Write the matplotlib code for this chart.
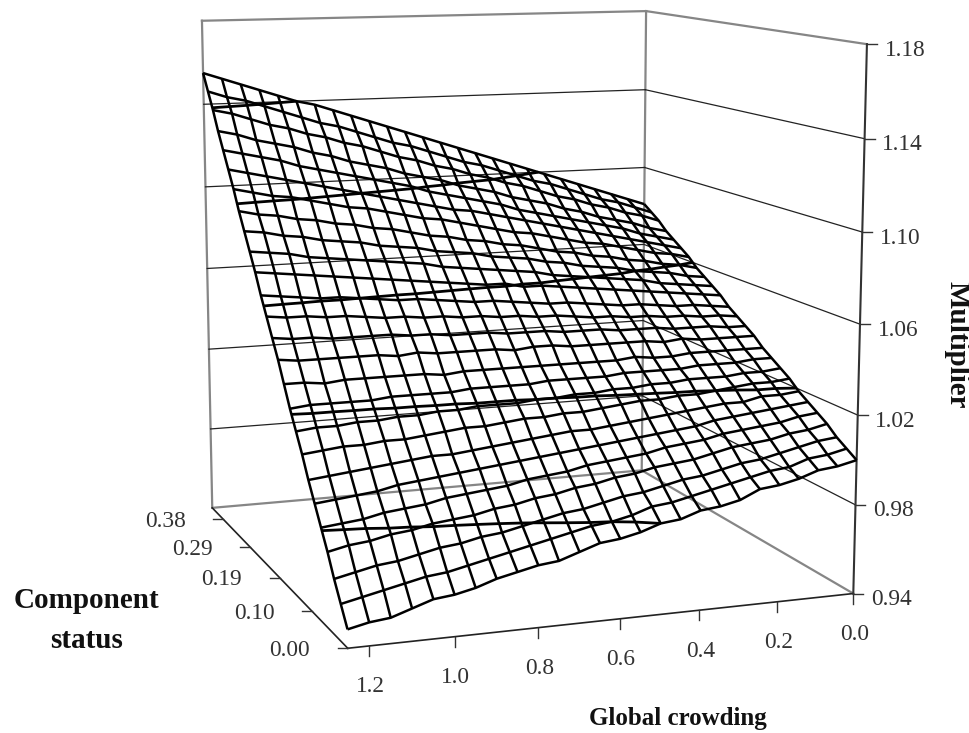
import numpy as np
import matplotlib
matplotlib.use('Agg')
import matplotlib.pyplot as plt

# axis values
crowding = [0.00, 0.05, 0.10, 0.15, 0.20, 0.25, 0.30, 0.35, 0.40, 0.45, 0.50, 0.55, 0.60,
            0.65, 0.70, 0.75, 0.80, 0.85, 0.90, 0.95, 1.00, 1.05, 1.10, 1.15, 1.20, 1.25]
status = [0.0000, 0.0168, 0.0336, 0.0504, 0.0672, 0.0840, 0.1008, 0.1176, 0.1344, 0.1512,
          0.1680, 0.1848, 0.2016, 0.2184, 0.2352, 0.2520, 0.2688, 0.2856, 0.3024, 0.3192,
          0.3360, 0.3528, 0.3696, 0.3864, 0.4032, 0.4200]

# multiplier, one row per status value, crowding left to right
multiplier = np.array([
    [1.000, .998, .997, .994, .992, .991, .987, .985, .984, .981, .980, .977, .975, .974, .971, .968, .967, .965, .963, .960, .958, .957, .954, .951, .950, .948],
    [1.003, 1.001, 1.000, .997, .996, .994, .992, .990, .988, .986, .985, .982, .980, .979, .977, .975, .973, .971, .969, .967, .965, .964, .962, .960, .958, .956],
    [1.006, 1.005, 1.003, 1.001, .999, .998, .996, .994, .993, .991, .989, .988, .986, .984, .983, .981, .979, .977, .976, .974, .973, .971, .969, .968, .966, .964],
    [1.010, 1.008, 1.007, 1.005, 1.004, 1.003, 1.001, .999, .998, .997, .995, .994, .992, .991, .989, .988, .986, .985, .983, .982, .981, .979, .978, .976, .975, .973],
    [1.013, 1.012, 1.010, 1.009, 1.008, 1.007, 1.005, 1.004, 1.003, 1.001, 1.000, .999, .998, .996, .995, .994, .992, .991, .990, .989, .987, .986, .985, .983, .982, .981],
    [1.016, 1.015, 1.014, 1.013, 1.012, 1.011, 1.009, 1.008, 1.007, 1.006, 1.005, 1.004, 1.003, 1.002, 1.001, 1.000, .999, .998, .997, .996, .995, .994, .992, .991, .990, .989],
    [1.019, 1.018, 1.018, 1.016, 1.016, 1.015, 1.014, 1.013, 1.012, 1.011, 1.010, 1.009, 1.009, 1.008, 1.007, 1.006, 1.005, 1.004, 1.003, 1.003, 1.002, 1.001, 1.000, .999, .998, .997],
    [1.023, 1.022, 1.022, 1.021, 1.020, 1.019, 1.019, 1.018, 1.018, 1.017, 1.016, 1.015, 1.015, 1.014, 1.014, 1.013, 1.012, 1.012, 1.011, 1.010, 1.009, 1.009, 1.008, 1.008, 1.007, 1.006],
    [1.026, 1.025, 1.025, 1.024, 1.024, 1.024, 1.023, 1.023, 1.022, 1.022, 1.021, 1.021, 1.020, 1.020, 1.019, 1.019, 1.019, 1.018, 1.018, 1.017, 1.017, 1.016, 1.016, 1.015, 1.015, 1.014],
    [1.029, 1.029, 1.028, 1.028, 1.028, 1.027, 1.027, 1.027, 1.027, 1.026, 1.026, 1.026, 1.026, 1.025, 1.025, 1.025, 1.025, 1.024, 1.024, 1.024, 1.024, 1.023, 1.023, 1.023, 1.023, 1.022],
    [1.032, 1.032, 1.032, 1.032, 1.032, 1.031, 1.031, 1.032, 1.031, 1.031, 1.031, 1.031, 1.031, 1.031, 1.031, 1.031, 1.031, 1.030, 1.031, 1.031, 1.031, 1.031, 1.031, 1.030, 1.031, 1.031],
    [1.036, 1.036, 1.036, 1.036, 1.037, 1.036, 1.037, 1.037, 1.037, 1.037, 1.037, 1.038, 1.038, 1.037, 1.038, 1.038, 1.038, 1.038, 1.039, 1.038, 1.039, 1.039, 1.039, 1.039, 1.039, 1.040],
    [1.039, 1.039, 1.040, 1.040, 1.040, 1.041, 1.041, 1.041, 1.042, 1.042, 1.042, 1.043, 1.043, 1.043, 1.044, 1.044, 1.044, 1.045, 1.045, 1.046, 1.046, 1.046, 1.046, 1.047, 1.047, 1.048],
    [1.042, 1.043, 1.043, 1.044, 1.044, 1.045, 1.045, 1.046, 1.046, 1.047, 1.048, 1.048, 1.049, 1.049, 1.050, 1.050, 1.051, 1.051, 1.052, 1.052, 1.053, 1.054, 1.054, 1.055, 1.055, 1.056],
    [1.045, 1.046, 1.047, 1.047, 1.048, 1.049, 1.049, 1.050, 1.051, 1.052, 1.052, 1.053, 1.054, 1.055, 1.055, 1.056, 1.057, 1.058, 1.058, 1.059, 1.060, 1.061, 1.061, 1.062, 1.063, 1.064],
    [1.049, 1.050, 1.051, 1.052, 1.053, 1.054, 1.055, 1.056, 1.057, 1.058, 1.059, 1.059, 1.061, 1.061, 1.062, 1.063, 1.064, 1.065, 1.066, 1.067, 1.068, 1.069, 1.070, 1.071, 1.072, 1.073],
    [1.052, 1.053, 1.054, 1.055, 1.057, 1.058, 1.059, 1.060, 1.061, 1.062, 1.064, 1.065, 1.066, 1.067, 1.068, 1.069, 1.071, 1.072, 1.073, 1.074, 1.075, 1.076, 1.077, 1.079, 1.080, 1.081],
    [1.055, 1.056, 1.058, 1.059, 1.060, 1.062, 1.063, 1.064, 1.066, 1.067, 1.069, 1.070, 1.071, 1.073, 1.074, 1.075, 1.077, 1.078, 1.079, 1.081, 1.082, 1.083, 1.085, 1.086, 1.088, 1.089],
    [1.058, 1.060, 1.061, 1.063, 1.064, 1.066, 1.067, 1.069, 1.070, 1.072, 1.074, 1.075, 1.077, 1.078, 1.080, 1.081, 1.083, 1.085, 1.086, 1.088, 1.089, 1.091, 1.092, 1.094, 1.095, 1.097],
    [1.062, 1.064, 1.065, 1.067, 1.069, 1.071, 1.072, 1.074, 1.076, 1.078, 1.079, 1.081, 1.083, 1.085, 1.087, 1.088, 1.090, 1.092, 1.094, 1.095, 1.097, 1.099, 1.101, 1.102, 1.104, 1.106],
    [1.065, 1.067, 1.069, 1.071, 1.073, 1.075, 1.077, 1.079, 1.081, 1.083, 1.085, 1.087, 1.089, 1.090, 1.092, 1.094, 1.096, 1.098, 1.100, 1.102, 1.104, 1.106, 1.108, 1.110, 1.112, 1.114],
    [1.068, 1.070, 1.072, 1.075, 1.077, 1.079, 1.081, 1.083, 1.085, 1.087, 1.090, 1.092, 1.094, 1.096, 1.098, 1.101, 1.103, 1.105, 1.107, 1.109, 1.111, 1.113, 1.116, 1.118, 1.120, 1.122],
    [1.071, 1.073, 1.076, 1.078, 1.080, 1.083, 1.085, 1.088, 1.090, 1.092, 1.095, 1.097, 1.099, 1.102, 1.104, 1.106, 1.109, 1.111, 1.113, 1.116, 1.118, 1.121, 1.123, 1.125, 1.128, 1.130],
    [1.075, 1.078, 1.080, 1.083, 1.085, 1.088, 1.090, 1.093, 1.096, 1.098, 1.101, 1.103, 1.106, 1.108, 1.111, 1.113, 1.116, 1.119, 1.121, 1.124, 1.126, 1.129, 1.131, 1.134, 1.137, 1.139],
    [1.078, 1.081, 1.084, 1.086, 1.089, 1.092, 1.095, 1.097, 1.100, 1.103, 1.106, 1.108, 1.111, 1.114, 1.117, 1.119, 1.122, 1.125, 1.128, 1.130, 1.133, 1.136, 1.139, 1.142, 1.144, 1.147],
    [1.081, 1.084, 1.087, 1.090, 1.093, 1.096, 1.099, 1.102, 1.105, 1.108, 1.111, 1.114, 1.117, 1.120, 1.123, 1.126, 1.129, 1.132, 1.135, 1.138, 1.140, 1.143, 1.146, 1.149, 1.152, 1.155],
])

crowding_ticks = [0.0, 0.2, 0.4, 0.6, 0.8, 1.0, 1.2]
status_ticks = [0.0000, 0.0950, 0.1900, 0.2850, 0.3800]
status_labels = ['0.00', '0.10', '0.19', '0.29', '0.38']
multiplier_ticks = [0.94, 0.98, 1.02, 1.06, 1.10, 1.14, 1.18]

W, H = 969, 733
GREY = '#868686'
TICK_TEXT = '#333333'
plt.rcParams['font.family'] = ['Liberation Serif', 'DejaVu Serif']

c_max, s_max = crowding[-1], status[-1]
z_min, z_max = multiplier_ticks[0], multiplier_ticks[-1]

# camera: box corners in the data -> where they sit on the canvas (pixels, y down)
corners = [((c_max, 0, z_min), (348, 649)),
           ((0, 0, z_min), (853, 593)),
           ((c_max, s_max, z_min), (212, 507)),
           ((0, s_max, z_min), (642, 471)),
           ((c_max, s_max, z_max), (202, 21)),
           ((0, s_max, z_max), (646, 11)),
           ((0, 0, z_max), (867, 44))]
rows, rhs = [], []
for (x, y, z), (u, v) in corners:
    rows.append([x, y, z, 1, 0, 0, 0, 0, -u*x, -u*y, -u*z])
    rows.append([0, 0, 0, 0, x, y, z, 1, -v*x, -v*y, -v*z])
    rhs += [u, v]
camera = np.append(np.linalg.lstsq(np.array(rows), np.array(rhs), rcond=None)[0], 1).reshape(3, 4)


def to_pixels(x, y, z):
    u, v, w = camera @ np.array([x, y, z, 1.0])
    return u/w, v/w


fig = plt.figure(figsize=(W/100, H/100), dpi=100)

# plain pixel axes underneath for the walls, ticks and labels
over = fig.add_axes([0, 0, 1, 1], zorder=0)
over.set_xlim(0, W)
over.set_ylim(H, 0)
over.axis('off')


def box_line(p0, p1, **kw):
    x0, y0 = to_pixels(*p0)
    x1, y1 = to_pixels(*p1)
    over.plot([x0, x1], [y0, y1], solid_capstyle='projecting', **kw)


# walls
edge = dict(color=GREY, lw=1.6)
box_line((c_max, s_max, z_min), (0, s_max, z_min), **edge)
box_line((0, s_max, z_min), (0, 0, z_min), **edge)
box_line((c_max, s_max, z_min), (c_max, s_max, z_max), **edge)
box_line((0, s_max, z_min), (0, s_max, z_max), **edge)
box_line((c_max, s_max, z_max), (0, s_max, z_max), **edge)
box_line((0, s_max, z_max), (0, 0, z_max), **edge)

for level in multiplier_ticks[1:-1]:
    box_line((c_max, s_max, level), (0, s_max, level), color='#222222', lw=0.9)
    box_line((0, s_max, level), (0, 0, level), color='#222222', lw=0.9)

# axes lines
box_line((c_max, 0, z_min), (0, 0, z_min), color='#222222', lw=1.2)
box_line((c_max, 0, z_min), (c_max, s_max, z_min), color='#222222', lw=1.2)
box_line((0, 0, z_min), (0, 0, z_max), color='#333333', lw=1.5)

tick_style = dict(color='#333333', lw=1.0)
label_style = dict(fontsize=16.8, color=TICK_TEXT, ha='center', va='center')

for val in crowding_ticks:
    px, py = to_pixels(val, 0, z_min)
    over.plot([px, px], [py, py + 10], **tick_style)
    over.text(px + 1, py + 41, '%.1f' % val, **label_style)

for val, lab in zip(status_ticks, status_labels):
    px, py = to_pixels(c_max, val, z_min)
    over.plot([px - 10, px], [py, py], **tick_style)
    over.text(px - 58, py + 2, lab, **label_style)

for val in multiplier_ticks:
    px, py = to_pixels(0, 0, val)
    over.plot([px, px + 10], [py, py], **tick_style)
    over.text(px + 38, py + 6, '%.2f' % val, **label_style)

title_style = dict(fontsize=21, fontweight='bold', color='#111111', ha='center', va='center')
over.text(86, 600, 'Component', **title_style)
over.text(87, 641, 'status', **title_style)
over.text(678, 719, 'Global crowding', **{**title_style, 'fontsize': 18})
over.text(957, 345, 'Multiplier', rotation=-90, **title_style)

# surface on a 3d axes, square so it covers the whole canvas
ax = fig.add_axes([0, (H - W)/2/H, 1, W/H], projection='3d', zorder=1)
ax.set_axis_off()
ax.patch.set_visible(False)


def fitted_proj():
    # the 3d axes works in its own 2d data space, so bring the pixel camera over to it
    flip = np.array([[1, 0, 0], [0, -1, H], [0, 0, 1.0]])
    p = ax.transData.inverted().get_affine().get_matrix() @ flip @ camera
    return np.array([p[0], p[1], [0, 0, 0, 1.0], p[2]])


ax.get_proj = fitted_proj

# wire mesh + the band outlines excel draws at every major unit
X, Y = np.meshgrid(crowding, status)
ax.plot_wireframe(X, Y, multiplier, color='black', lw=1.8)
ax.contour(X, Y, multiplier, levels=multiplier_ticks[1:-1], colors='black', linewidths=2.0)

fig.savefig('out.png', dpi=100)
